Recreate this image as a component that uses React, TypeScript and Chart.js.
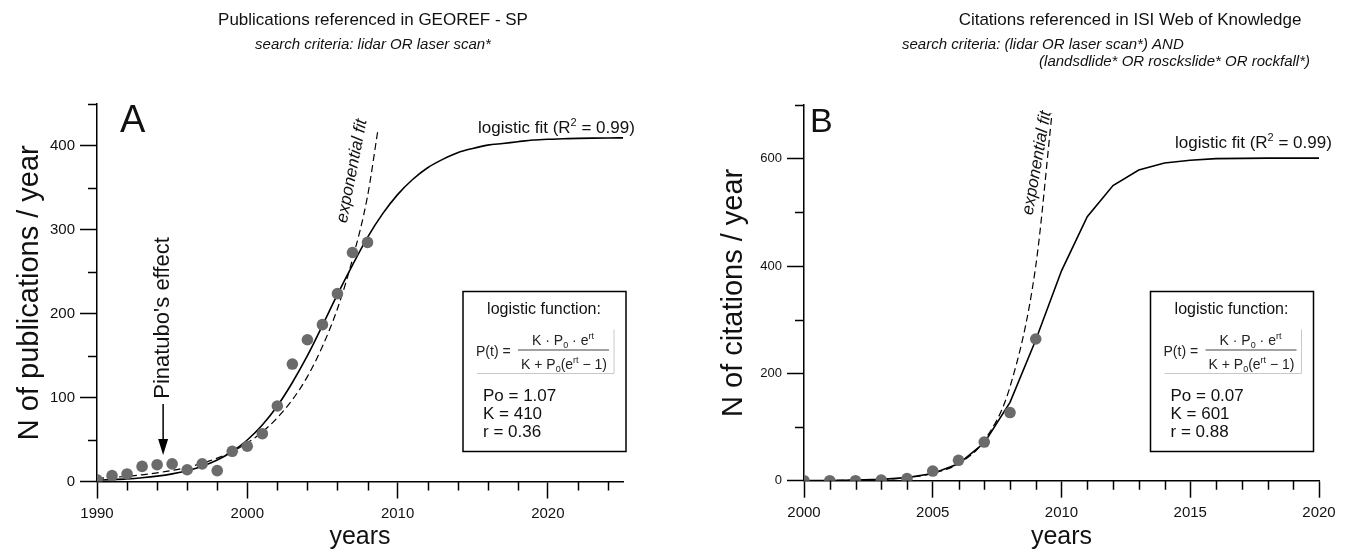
import React, { useEffect, useRef } from 'react';
import { Chart, registerables } from 'chart.js';

Chart.register(...registerables);

const FONT = '"Liberation Sans", Arial, Helvetica, sans-serif';

// ---------- Panel A : publications (GEOREF) ----------
const yearsA = [1990, 1991, 1992, 1993, 1994, 1995, 1996, 1997, 1998, 1999, 2000, 2001, 2002, 2003, 2004, 2005, 2006, 2007, 2008];
const pubsA = [2, 7, 9, 18, 20, 21, 14, 21, 13, 36, 42, 57, 90, 140, 169, 187, 224, 273, 285];
const logisticYearsA = [1990, 1991, 1992, 1993, 1994, 1995, 1996, 1997, 1998, 1999, 2000, 2001, 2002, 2003, 2004, 2005, 2006, 2007, 2008, 2009, 2010, 2011, 2012, 2013, 2014, 2015, 2016, 2017, 2018, 2019, 2020, 2021, 2022, 2023, 2024, 2025];
const logisticA = [1.5, 2.2, 3.1, 4.5, 6.4, 9.1, 12.9, 18.3, 25.7, 35.8, 49.5, 67.4, 90, 118, 150, 186, 223, 258, 291, 319, 342, 360, 374, 384, 392, 397, 401, 403, 405, 407, 408, 408.5, 409, 409.3, 409.5, 409.6];
const expYearsA = [1990, 1991, 1992, 1993, 1994, 1995, 1996, 1997, 1998, 1999, 2000, 2001, 2002, 2003, 2004, 2005, 2006, 2007, 2008, 2008.7];
const expA = [3.8, 4.8, 6.2, 8, 10.3, 13.2, 16.9, 21.7, 27.9, 35.8, 46, 59, 76, 97.5, 125, 161, 206, 265, 340, 420];
const xTicksA = { min: 1990, max: 2025, minor: 2, major: 10 };
const yTicksA = { min: 0, max: 450, minor: 50, major: 100 };

// ---------- Panel B : citations (ISI) ----------
const yearsB = [2000, 2001, 2002, 2003, 2004, 2005, 2006, 2007, 2008, 2009];
const citesB = [0, 0, 0, 1, 4, 18, 38, 72, 127, 264];
const logisticYearsB = [2000, 2001, 2002, 2003, 2004, 2005, 2006, 2007, 2008, 2009, 2010, 2011, 2012, 2013, 2014, 2015, 2016, 2017, 2018, 2019, 2020];
const logisticB = [0.2, 0.4, 1, 2.4, 5.7, 13.4, 31.4, 70.5, 146, 262, 391, 492, 550, 579, 592, 597, 600, 600.5, 601, 601, 601];
const expYearsB = [2000, 2001, 2002, 2003, 2004, 2005, 2006, 2007, 2008, 2009, 2009.63];
const expB = [0.2, 0.4, 1, 2.4, 5.9, 13.7, 32, 75, 175, 400, 684];
const xTicksB = { min: 2000, max: 2020, minor: 1, major: 5 };
const yTicksB = { min: 0, max: 700, minor: 100, major: 200 };

const PT_COLOR = '#6b6b6b';

type Part = [string, 'n' | 'sub' | 'sup'];

function rich(ctx: CanvasRenderingContext2D, parts: Part[], x: number, y: number, size: number, align: 'left' | 'center', style = '') {
  const small = Math.round(size * 0.62);
  const fontFor = (k: string) => `${style}${k === 'n' ? size : small}px ${FONT}`;
  let total = 0;
  const widths = parts.map(([t, k]) => {
    ctx.font = fontFor(k);
    const w = ctx.measureText(t).width;
    total += w;
    return w;
  });
  let cx = align === 'center' ? x - total / 2 : x;
  ctx.textAlign = 'left';
  ctx.textBaseline = 'alphabetic';
  parts.forEach(([t, k], i) => {
    ctx.font = fontFor(k);
    const dy = k === 'sub' ? size * 0.22 : k === 'sup' ? -size * 0.42 : 0;
    ctx.fillText(t, cx, y + dy);
    cx += widths[i];
  });
}

function text(ctx: CanvasRenderingContext2D, s: string, x: number, y: number, font: string, align: CanvasTextAlign = 'left', baseline: CanvasTextBaseline = 'middle') {
  ctx.font = font;
  ctx.textAlign = align;
  ctx.textBaseline = baseline;
  ctx.fillText(s, x, y);
}

function drawBox(ctx: CanvasRenderingContext2D, bx: number, by: number, params: string[]) {
  ctx.save();
  ctx.fillStyle = '#fff';
  ctx.fillRect(bx, by, 163, 160);
  ctx.strokeStyle = '#000';
  ctx.lineWidth = 1.5;
  ctx.strokeRect(bx, by, 163, 160);
  ctx.fillStyle = '#111';
  text(ctx, 'logistic function:', bx + 81, by + 18, `16px ${FONT}`, 'center');
  // formula
  ctx.strokeStyle = '#c8c8c8';
  ctx.lineWidth = 1;
  ctx.beginPath();
  ctx.moveTo(bx + 151, by + 38);
  ctx.lineTo(bx + 151, by + 82);
  ctx.moveTo(bx + 14, by + 82);
  ctx.lineTo(bx + 151, by + 82);
  ctx.stroke();
  ctx.fillStyle = '#222';
  rich(ctx, [['P(t) =', 'n']], bx + 13, by + 64, 14, 'left');
  rich(ctx, [['K · P', 'n'], ['0', 'sub'], [' · e', 'n'], ['rt', 'sup']], bx + 100, by + 53, 14, 'center');
  rich(ctx, [['K + P', 'n'], ['0', 'sub'], ['(e', 'n'], ['rt', 'sup'], [' − 1)', 'n']], bx + 101, by + 77, 14, 'center');
  ctx.strokeStyle = '#444';
  ctx.lineWidth = 1;
  ctx.beginPath();
  ctx.moveTo(bx + 55, by + 58.5);
  ctx.lineTo(bx + 146, by + 58.5);
  ctx.stroke();
  ctx.fillStyle = '#111';
  params.forEach((p, i) => text(ctx, p, bx + 20, by + 105 + i * 18, `17px ${FONT}`, 'left'));
  ctx.restore();
}

function drawRotated(ctx: CanvasRenderingContext2D, s: string, x: number, y: number, angleDeg: number, font: string) {
  ctx.save();
  ctx.translate(x, y);
  ctx.rotate((angleDeg * Math.PI) / 180);
  text(ctx, s, 0, 0, font, 'center', 'middle');
  ctx.restore();
}

function drawA(ctx: CanvasRenderingContext2D, chart: any) {
  ctx.fillStyle = '#111';
  text(ctx, 'Publications referenced in GEOREF - SP', 373, 20, `17px ${FONT}`, 'center');
  text(ctx, 'search criteria: lidar OR laser scan*', 373, 45, `italic 15px ${FONT}`, 'center');
  text(ctx, 'A', 120, 103, `38px ${FONT}`, 'left', 'top');
  rich(ctx, [['logistic fit (R', 'n'], ['2', 'sup'], [' = 0.99)', 'n']], 478, 133, 17, 'left');
  drawRotated(ctx, 'exponential fit', 352, 171, -79, `italic 17px ${FONT}`);
  // Pinatubo annotation
  const ax = chart.scales.x.getPixelForValue(1994.4);
  drawRotated(ctx, "Pinatubo's effect", ax, 318, -90, `22px ${FONT}`);
  ctx.strokeStyle = '#000';
  ctx.lineWidth = 1.5;
  ctx.beginPath();
  ctx.moveTo(ax, 404);
  ctx.lineTo(ax, 442);
  ctx.stroke();
  ctx.fillStyle = '#000';
  ctx.beginPath();
  ctx.moveTo(ax - 5, 439);
  ctx.lineTo(ax + 5, 439);
  ctx.lineTo(ax, 455);
  ctx.closePath();
  ctx.fill();
  drawBox(ctx, 463, 291.5, ['Po = 1.07', 'K = 410', 'r = 0.36']);
}

function drawB(ctx: CanvasRenderingContext2D) {
  ctx.fillStyle = '#111';
  text(ctx, 'Citations referenced in ISI Web of Knowledge', 450, 20, `17px ${FONT}`, 'center');
  text(ctx, 'search criteria: (lidar OR laser scan*) AND', 222, 45, `italic 15px ${FONT}`, 'left');
  text(ctx, '(landsdlide* OR rosckslide* OR rockfall*)', 630, 62, `italic 15px ${FONT}`, 'right');
  text(ctx, 'B', 130, 106, `34px ${FONT}`, 'left', 'top');
  rich(ctx, [['logistic fit (R', 'n'], ['2', 'sup'], [' = 0.99)', 'n']], 495, 148, 17, 'left');
  drawRotated(ctx, 'exponential fit', 357, 163, -80, `italic 17px ${FONT}`);
  drawBox(ctx, 470.5, 291.5, ['Po = 0.07', 'K = 601', 'r = 0.88']);
}

type Spec = {
  width: number;
  height: number;
  padTop: number;
  padRight: number;
  yWidth: number;
  xHeight: number;
  xt: { min: number; max: number; minor: number; major: number };
  yt: { min: number; max: number; minor: number; major: number };
  yTickSize: number;
  yTitle: string;
  yTitlePad: number;
  ptX: number[];
  ptY: number[];
  logX: number[];
  logY: number[];
  smooth: boolean;
  expX: number[];
  expY: number[];
  draw: (ctx: CanvasRenderingContext2D, chart: any) => void;
};

function buildConfig(s: Spec): any {
  const minorTicks = {
    id: 'minorTicksAndNotes',
    afterDraw(chart: any) {
      const ctx: CanvasRenderingContext2D = chart.ctx;
      const a = chart.chartArea;
      const xs = chart.scales.x;
      const ys = chart.scales.y;
      ctx.save();
      ctx.strokeStyle = '#000';
      ctx.lineWidth = 1.5;
      ctx.beginPath();
      for (let v = s.xt.min; v <= s.xt.max; v += s.xt.minor) {
        if (v % s.xt.major === 0) continue;
        const px = Math.round(xs.getPixelForValue(v)) + 0.5;
        ctx.moveTo(px, a.bottom);
        ctx.lineTo(px, a.bottom + 9);
      }
      for (let v = s.yt.min; v <= s.yt.max; v += s.yt.minor) {
        if (v % s.yt.major === 0) continue;
        const py = Math.round(ys.getPixelForValue(v)) + 0.5;
        ctx.moveTo(a.left - 9, py);
        ctx.lineTo(a.left, py);
      }
      ctx.stroke();
      s.draw(ctx, chart);
      ctx.restore();
    },
  };
  const isMajor = (step: number) => (c: any) => (c.tick && c.tick.value % step === 0 ? '#000' : 'rgba(0,0,0,0)');
  return {
    type: 'scatter',
    data: {
      datasets: [
        {
          type: 'line',
          data: s.logX.map((x, i) => ({ x, y: s.logY[i] })),
          borderColor: '#000',
          borderWidth: 1.6,
          pointRadius: 0,
          cubicInterpolationMode: s.smooth ? 'monotone' : 'default',
          tension: 0,
          fill: false,
          order: 2,
        },
        {
          type: 'line',
          data: s.expX.map((x, i) => ({ x, y: s.expY[i] })),
          borderColor: '#000',
          borderWidth: 1.2,
          borderDash: [7, 4],
          pointRadius: 0,
          cubicInterpolationMode: 'monotone',
          fill: false,
          order: 3,
        },
        {
          type: 'scatter',
          data: s.ptX.map((x, i) => ({ x, y: s.ptY[i] })),
          backgroundColor: PT_COLOR,
          borderWidth: 0,
          pointRadius: 5.8,
          order: 0,
        },
      ],
    },
    options: {
      responsive: false,
      animation: false,
      events: [],
      layout: { padding: { left: 0, right: s.padRight, top: s.padTop, bottom: 0 } },
      plugins: { legend: { display: false }, tooltip: { enabled: false }, title: { display: false } },
      scales: {
        x: {
          type: 'linear',
          min: s.xt.min,
          max: s.xt.max,
          afterFit: (sc: any) => {
            sc.height = s.xHeight;
          },
          border: { display: true, color: '#000', width: 1.5 },
          grid: {
            display: true,
            drawOnChartArea: false,
            drawTicks: true,
            tickLength: 17,
            tickWidth: 1.5,
            color: isMajor(s.xt.major),
            tickColor: isMajor(s.xt.major),
          },
          ticks: {
            stepSize: s.xt.minor,
            autoSkip: false,
            maxRotation: 0,
            padding: 6,
            color: '#111',
            font: { family: FONT, size: 15 },
            callback: (v: number) => (v % s.xt.major === 0 ? String(v) : ''),
          },
          title: { display: true, text: 'years', color: '#111', font: { family: FONT, size: 25 }, padding: { top: 0, bottom: 0 } },
        },
        y: {
          type: 'linear',
          min: s.yt.min,
          max: s.yt.max,
          afterFit: (sc: any) => {
            sc.width = s.yWidth;
          },
          border: { display: true, color: '#000', width: 1.5 },
          grid: {
            display: true,
            drawOnChartArea: false,
            drawTicks: true,
            tickLength: 17,
            tickWidth: 1.5,
            color: isMajor(s.yt.major),
            tickColor: isMajor(s.yt.major),
          },
          ticks: {
            stepSize: s.yt.minor,
            autoSkip: false,
            padding: 5,
            color: '#111',
            font: { family: FONT, size: s.yTickSize },
            callback: (v: number) => (v % s.yt.major === 0 ? String(v) : ''),
          },
          title: { display: true, text: s.yTitle, color: '#111', font: { family: FONT, size: 29 }, padding: { top: s.yTitlePad, bottom: 0 } },
        },
      },
    },
    plugins: [minorTicks],
  };
}

const specA: Spec = {
  width: 680,
  height: 552,
  padTop: 104,
  padRight: 57,
  yWidth: 97,
  xHeight: 70.5,
  xt: xTicksA,
  yt: yTicksA,
  yTickSize: 15,
  yTitle: 'N of publications / year',
  yTitlePad: 13,
  ptX: yearsA,
  ptY: pubsA,
  logX: logisticYearsA,
  logY: logisticA,
  smooth: true,
  expX: expYearsA,
  expY: expA,
  draw: drawA,
};

const specB: Spec = {
  width: 678,
  height: 552,
  padTop: 105,
  padRight: 39,
  yWidth: 124,
  xHeight: 71.3,
  xt: xTicksB,
  yt: yTicksB,
  yTickSize: 13,
  yTitle: 'N of citations / year',
  yTitlePad: 37,
  ptX: yearsB,
  ptY: citesB,
  logX: logisticYearsB,
  logY: logisticB,
  smooth: false,
  expX: expYearsB,
  expY: expB,
  draw: (ctx) => drawB(ctx),
};

function Panel({ spec, left }: { spec: Spec; left: number }) {
  const ref = useRef<HTMLCanvasElement | null>(null);
  useEffect(() => {
    if (!ref.current) return;
    const chart = new Chart(ref.current, buildConfig(spec));
    return () => chart.destroy();
  }, [spec]);
  return (
    <canvas
      ref={ref}
      width={spec.width}
      height={spec.height}
      style={{ position: 'absolute', left, top: 0, width: spec.width, height: spec.height }}
    />
  );
}

export default function App() {
  return (
    <div style={{ position: 'fixed', left: 0, top: 0, width: 1358, height: 552, background: '#fff', overflow: 'hidden' }}>
      <Panel spec={specA} left={0} />
      <Panel spec={specB} left={680} />
    </div>
  );
}
